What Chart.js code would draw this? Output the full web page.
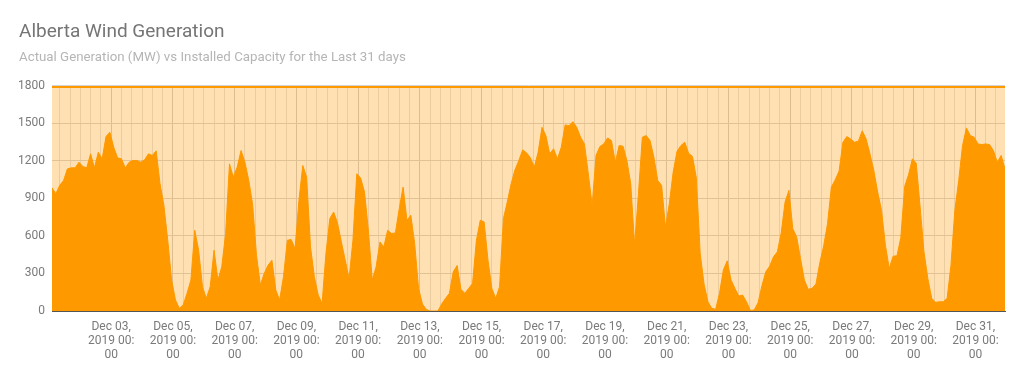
<!DOCTYPE html>
<html>
<head>
<meta charset="utf-8">
<title>Alberta Wind Generation</title>
<script src="https://cdn.jsdelivr.net/npm/chart.js@4.4.1/dist/chart.umd.min.js"></script>
<style>
  html, body { margin: 0; padding: 0; background: #fff; }
  #wrap { width: 1024px; height: 379px; position: relative; }
</style>
</head>
<body>
<div id="wrap"><canvas id="windChart"></canvas></div>
<script>
// Hours are counted from Dec 01, 2019 00:00; one reading every 3 hours
const firstHour = 2;
const stepHours = 3;

// Actual wind generation (MW)
const generationMW = [
  985, 937, 1004, 1043, 1136, 1144, 1144, 1189, 1155, 1144,
  1256, 1144, 1269, 1216, 1394, 1428, 1309, 1224, 1216, 1144,
  1189, 1203, 1203, 1189, 1208, 1256, 1243, 1280, 1017, 844,
  566, 247, 88, 21, 48, 141, 247, 645, 486, 194,
  101, 194, 486, 247, 353, 619, 1176, 1070, 1150, 1282,

  1189, 1043, 852, 446, 207, 300, 366, 406, 167, 88,
  273, 566, 571, 499, 884, 1163, 1070, 512, 273, 127,
  61, 459, 738, 791, 704, 552, 406, 260, 566, 1097,
  1062, 950, 645, 247, 353, 552, 512, 645, 619, 624,
  818, 990, 725, 765, 539, 181, 56, 13, 0, 0,

  0, 56, 101, 141, 313, 364, 173, 141, 181, 220,
  566, 725, 712, 406, 181, 101, 194, 738, 871, 1017,
  1128, 1203, 1288, 1264, 1224, 1150, 1269, 1468, 1402, 1256,
  1296, 1216, 1309, 1487, 1481, 1513, 1468, 1389, 1335, 1097,
  844, 1243, 1314, 1335, 1383, 1362, 1189, 1322, 1317, 1203,

  1017, 526, 937, 1389, 1402, 1362, 1229, 1043, 1004, 672,
  858, 1110, 1277, 1322, 1349, 1261, 1235, 1065, 459, 215,
  74, 21, 13, 141, 327, 401, 247, 181, 119, 127,
  74, 5, 8, 66, 202, 313, 358, 433, 473, 624,
  871, 964, 658, 592, 419, 247, 173, 181, 215, 385,

  520, 698, 990, 1049, 1118, 1349, 1394, 1375, 1349, 1357,
  1440, 1375, 1256, 1123, 950, 804, 526, 340, 438, 441,
  587, 996, 1089, 1216, 1181, 831, 473, 260, 101, 69,
  74, 74, 101, 366, 804, 1043, 1322, 1463, 1402, 1389,
  1335, 1330, 1335, 1330, 1282, 1189, 1243, 1136
];

// Installed capacity (MW)
const installedCapacityMW = 1790;

// Labelled x ticks (hour offset and text)
const xTickHours = [48, 96, 144, 192, 240, 288, 336, 384, 432, 480, 528, 576, 624, 672, 720];
const xTickLabels = [
  'Dec 03, 2019 00:00', 'Dec 05, 2019 00:00', 'Dec 07, 2019 00:00', 'Dec 09, 2019 00:00',
  'Dec 11, 2019 00:00', 'Dec 13, 2019 00:00', 'Dec 15, 2019 00:00', 'Dec 17, 2019 00:00',
  'Dec 19, 2019 00:00', 'Dec 21, 2019 00:00', 'Dec 23, 2019 00:00', 'Dec 25, 2019 00:00',
  'Dec 27, 2019 00:00', 'Dec 29, 2019 00:00', 'Dec 31, 2019 00:00'
];
const gridStepHours = 8;

// build the point lists
const generationPoints = generationMW.map((v, i) => ({ x: firstHour + i * stepHours, y: v }));
const lastHour = firstHour + (generationMW.length - 1) * stepHours;
const capacityPoints = [
  { x: firstHour, y: installedCapacityMW },
  { x: lastHour, y: installedCapacityMW }
];

// "Dec 03, 2019 00:00" -> ["Dec 03,", "2019 00:", "00"]
function wrapLabel(label) {
  const [md, rest] = label.split(', ');
  return [md + ',', rest.slice(0, 8), rest.slice(8)];
}

const ctx = document.getElementById('windChart').getContext('2d');

new Chart(ctx, {
  type: 'line',
  data: {
    datasets: [
      {
        label: 'Actual Generation (MW)',
        data: generationPoints,
        borderColor: '#ff9900',
        backgroundColor: '#ff9900',
        borderWidth: 1,
        pointRadius: 0,
        tension: 0,
        fill: 'origin'
      },
      {
        label: 'Installed Capacity (MW)',
        data: capacityPoints,
        borderColor: '#ff9900',
        backgroundColor: 'rgba(255, 153, 0, 0.3)',
        borderWidth: 2,
        pointRadius: 0,
        fill: 'origin'
      }
    ]
  },
  options: {
    responsive: true,
    maintainAspectRatio: false,
    animation: false,
    layout: {
      padding: { left: 19, right: 19, top: 0, bottom: 0 }
    },
    scales: {
      x: {
        type: 'linear',
        min: firstHour,
        max: lastHour,
        afterBuildTicks: function(scale) {
          const ticks = [];
          for (let h = gridStepHours; h <= lastHour; h += gridStepHours) {
            if (h >= firstHour) ticks.push({ value: h });
          }
          scale.ticks = ticks;
        },
        afterFit: function(scale) {
          scale.height = 68;
        },
        ticks: {
          autoSkip: false,
          maxRotation: 0,
          padding: 9,
          color: '#7a7a7a',
          font: { family: 'Roboto', size: 12, lineHeight: 1.17 },
          callback: function(value) {
            const idx = xTickHours.indexOf(value);
            return idx >= 0 ? wrapLabel(xTickLabels[idx]) : '';
          }
        },
        grid: {
          drawTicks: false,
          lineWidth: 1,
          color: function(c) {
            if (c.tick && xTickHours.indexOf(c.tick.value) >= 0) return '#cdcdcd';
            return '#e3e3e3';
          }
        },
        border: {
          display: true,
          color: '#555555',
          width: 1
        }
      },
      y: {
        min: 0,
        max: 1800,
        afterFit: function(scale) {
          scale.width = 33;
        },
        ticks: {
          stepSize: 300,
          padding: 7,
          color: '#7a7a7a',
          font: { family: 'Roboto', size: 12 },
          callback: function(value) {
            return String(value);
          }
        },
        grid: {
          drawTicks: false,
          color: '#d4d4d4',
          lineWidth: 1
        },
        border: {
          display: false
        }
      }
    },
    plugins: {
      legend: { display: false },
      tooltip: { enabled: false },
      title: {
        display: true,
        text: 'Alberta Wind Generation',
        align: 'start',
        color: '#757575',
        font: { family: 'Roboto', size: 19, weight: 'normal' },
        padding: { top: 21, bottom: 6 }
      },
      subtitle: {
        display: true,
        text: 'Actual Generation (MW) vs Installed Capacity for the Last 31 days',
        align: 'start',
        color: '#b5b5b5',
        font: { family: 'Roboto', size: 13.3, weight: 'normal' },
        padding: { top: 0, bottom: 20 }
      }
    }
  }
});
</script>
</body>
</html>
